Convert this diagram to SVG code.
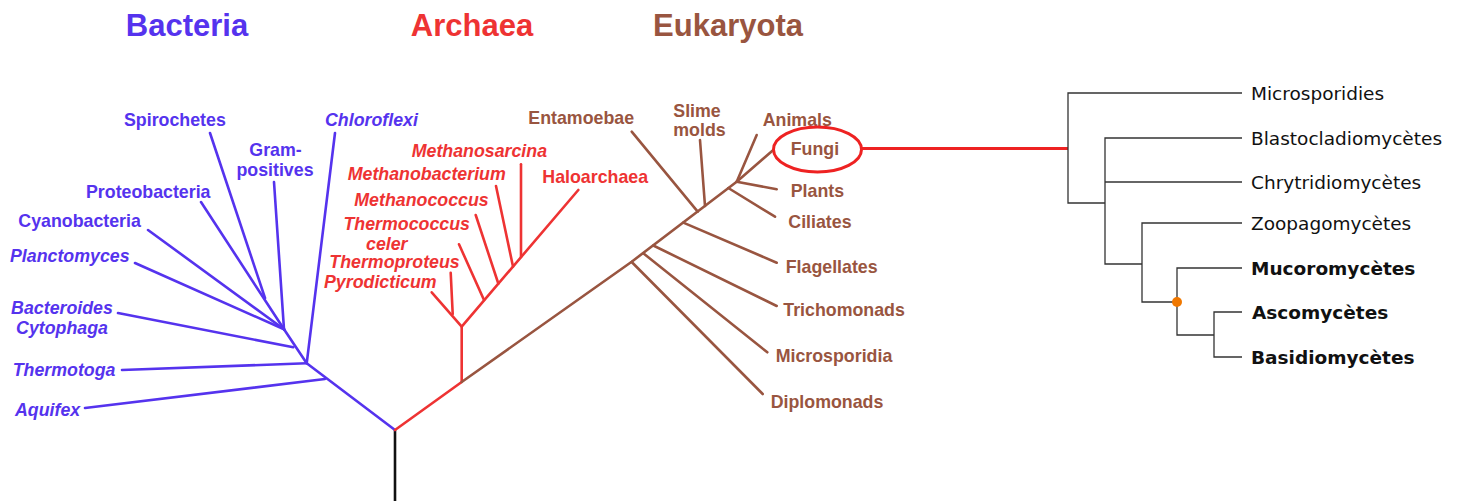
<svg xmlns="http://www.w3.org/2000/svg" width="1463" height="501" viewBox="0 0 1463 501">
<style>
.t{font-family:"Liberation Sans",Arial,sans-serif;font-weight:bold;font-size:17.8px}
.i{font-style:italic}
.title{font-family:"Liberation Sans",Arial,sans-serif;font-weight:bold;font-size:31px;text-anchor:middle}
.b{fill:#5533ee}
.r{fill:#ee3333}
.e{fill:#995540}
.m{text-anchor:middle}
.lb{stroke:#5533ee;stroke-width:2.6;fill:none;stroke-linecap:round;stroke-linejoin:round}
.lr{stroke:#ee3333;stroke-width:2.6;fill:none;stroke-linecap:round;stroke-linejoin:round}
.le{stroke:#995540;stroke-width:2.6;fill:none;stroke-linecap:round;stroke-linejoin:round}
.lk{stroke:#111;stroke-width:2.6;fill:none}
.lg{stroke:#333;stroke-width:1.3;fill:none}
.f{font-family:"DejaVu Sans",sans-serif;font-size:18.5px;fill:#111}
.fb{font-weight:bold}
</style>
<rect width="1463" height="501" fill="#fff"/>
<g id="connectors">
<line class="lk" x1="395" y1="430" x2="395" y2="501"/>
<polyline class="lb" points="395,430 306.7,363.3 284,329.3"/>
<line class="lb" x1="85" y1="408" x2="325" y2="379"/>
<line class="lb" x1="122" y1="370" x2="306.7" y2="363.3"/>
<line class="lb" x1="335" y1="133" x2="306.7" y2="363.3"/>
<line class="lb" x1="118" y1="313" x2="293.3" y2="347.3"/>
<line class="lb" x1="274" y1="182" x2="284" y2="329.3"/>
<line class="lb" x1="210" y1="133" x2="265" y2="298"/>
<line class="lb" x1="201" y1="202" x2="284" y2="329.3"/>
<line class="lb" x1="148" y1="230" x2="284" y2="329.3"/>
<line class="lb" x1="135" y1="263" x2="284" y2="329.3"/>
<polyline class="lr" points="395,430 461.7,382 461.7,326.7 578.3,190"/>
<line class="lr" x1="431.7" y1="292.3" x2="461.7" y2="326.7"/>
<line class="lr" x1="450.7" y1="272.7" x2="452.7" y2="314"/>
<line class="lr" x1="459" y1="244.3" x2="484" y2="300"/>
<line class="lr" x1="475.7" y1="215" x2="498.3" y2="283.5"/>
<line class="lr" x1="496" y1="186" x2="513" y2="266.5"/>
<line class="lr" x1="521" y1="164.3" x2="521" y2="257"/>
<polyline class="le" points="461.7,382 631.7,261.7 736.7,181.7"/>
<line class="le" x1="631.7" y1="262" x2="762.7" y2="394"/>
<line class="le" x1="643.3" y1="253.3" x2="767.3" y2="352.3"/>
<line class="le" x1="653.3" y1="245.5" x2="776.7" y2="306"/>
<line class="le" x1="683.3" y1="222.6" x2="776.7" y2="262.7"/>
<line class="le" x1="631.7" y1="131.7" x2="697.7" y2="211.7"/>
<line class="le" x1="700" y1="140" x2="705" y2="206"/>
<line class="le" x1="728.3" y1="188" x2="775" y2="216.7"/>
<line class="le" x1="736.7" y1="181.7" x2="776.7" y2="189.3"/>
<line class="le" x1="756.7" y1="135" x2="736.7" y2="181.7"/>
<line class="le" x1="773.3" y1="150" x2="736.7" y2="181.7"/>
<line x1="861.7" y1="148.5" x2="1068" y2="148.5" stroke="#ee2222" stroke-width="3.2"/>
<polyline class="lg" points="1242,93 1068,93 1068,203 1105,203"/>
<polyline class="lg" points="1242,138 1105,138 1105,264 1142,264"/>
<line class="lg" x1="1105" y1="182" x2="1242" y2="182"/>
<polyline class="lg" points="1242,223 1142,223 1142,302 1177,302"/>
<polyline class="lg" points="1242,268 1177,268 1177,335 1214,335"/>
<polyline class="lg" points="1242,312 1214,312 1214,357 1242,357"/>
</g>
<g id="titles">
<text class="title b" x="187" y="36">Bacteria</text>
<text class="title r" x="472" y="36">Archaea</text>
<text class="title e" x="728" y="36">Eukaryota</text>
</g>
<g id="bacteria">
<g id="n-spirochetes"><text class="t b" x="124" y="126">Spirochetes</text></g>
<g id="n-grampositives"><text class="t b m"><tspan x="275.5" y="156">Gram-</tspan><tspan x="275" y="176">positives</tspan></text></g>
<g id="n-chloroflexi"><text class="t b i" x="325" y="126">Chloroflexi</text></g>
<g id="n-proteobacteria"><text class="t b" x="86" y="198">Proteobacteria</text></g>
<g id="n-cyanobacteria"><text class="t b" x="18.3" y="227">Cyanobacteria</text></g>
<g id="n-planctomyces"><text class="t b i" x="10" y="262">Planctomyces</text></g>
<g id="n-bacteroides"><text class="t b i m"><tspan x="62" y="314">Bacteroides</tspan><tspan x="62" y="334">Cytophaga</tspan></text></g>
<g id="n-thermotoga"><text class="t b i" x="12.7" y="375.5">Thermotoga</text></g>
<g id="n-aquifex"><text class="t b i" x="15" y="415.5">Aquifex</text></g>
</g>
<g id="archaea">
<g id="n-methanosarcina"><text class="t r i" x="411.7" y="157">Methanosarcina</text></g>
<g id="n-methanobacterium"><text class="t r i" x="347.7" y="179.5">Methanobacterium</text></g>
<g id="n-methanococcus"><text class="t r i" x="354.3" y="205.5">Methanococcus</text></g>
<g id="n-thermococcus"><text class="t r i" font-size="17.2"><tspan x="343.5" y="230.3">Thermococcus</tspan><tspan x="366" y="250.2">celer</tspan></text></g>
<g id="n-thermoproteus"><text class="t r i" x="329.3" y="267.5">Thermoproteus</text></g>
<g id="n-pyrodicticum"><text class="t r i" x="324" y="288">Pyrodicticum</text></g>
<g id="n-haloarchaea"><text class="t r" x="542.3" y="183">Haloarchaea</text></g>
</g>
<g id="eukaryota">
<g id="n-entamoebae"><text class="t e" x="528.3" y="124">Entamoebae</text></g>
<g id="n-slimemolds"><text class="t e m"><tspan x="697" y="117">Slime</tspan><tspan x="699.5" y="136">molds</tspan></text></g>
<g id="n-animals"><text class="t e" x="762.7" y="126">Animals</text></g>
<g id="n-fungi"><text class="t e" x="790.7" y="155">Fungi</text><ellipse cx="817.5" cy="149.5" rx="44" ry="22.5" fill="none" stroke="#ee2222" stroke-width="3"/></g>
<g id="n-plants"><text class="t e" x="790.7" y="197">Plants</text></g>
<g id="n-ciliates"><text class="t e" x="788.3" y="228">Ciliates</text></g>
<g id="n-flagellates"><text class="t e" x="785.7" y="273">Flagellates</text></g>
<g id="n-trichomonads"><text class="t e" x="783.3" y="316">Trichomonads</text></g>
<g id="n-microsporidia"><text class="t e" x="775.7" y="362">Microsporidia</text></g>
<g id="n-diplomonads"><text class="t e" x="770.7" y="407.5">Diplomonads</text></g>
</g>
<g id="fungi-tree">
<g id="n-microsporidies"><text class="f" x="1251" y="99.5">Microsporidies</text></g>
<g id="n-blastocladiomycetes"><text class="f" x="1251" y="144.5">Blastocladiomycètes</text></g>
<g id="n-chrytridiomycetes"><text class="f" x="1251" y="188.5">Chrytridiomycètes</text></g>
<g id="n-zoopagomycetes"><text class="f" x="1251" y="229.5">Zoopagomycètes</text></g>
<g id="n-mucoromycetes"><text class="f fb" x="1251" y="274.5">Mucoromycètes</text></g>
<g id="n-ascomycetes"><text class="f fb" x="1252" y="318.5">Ascomycètes</text></g>
<g id="n-basidiomycetes"><text class="f fb" x="1251" y="363.5">Basidiomycètes</text></g>
<g id="n-node-dot"><circle cx="1177" cy="302" r="5" fill="#f07800"/></g>
</g>
</svg>
